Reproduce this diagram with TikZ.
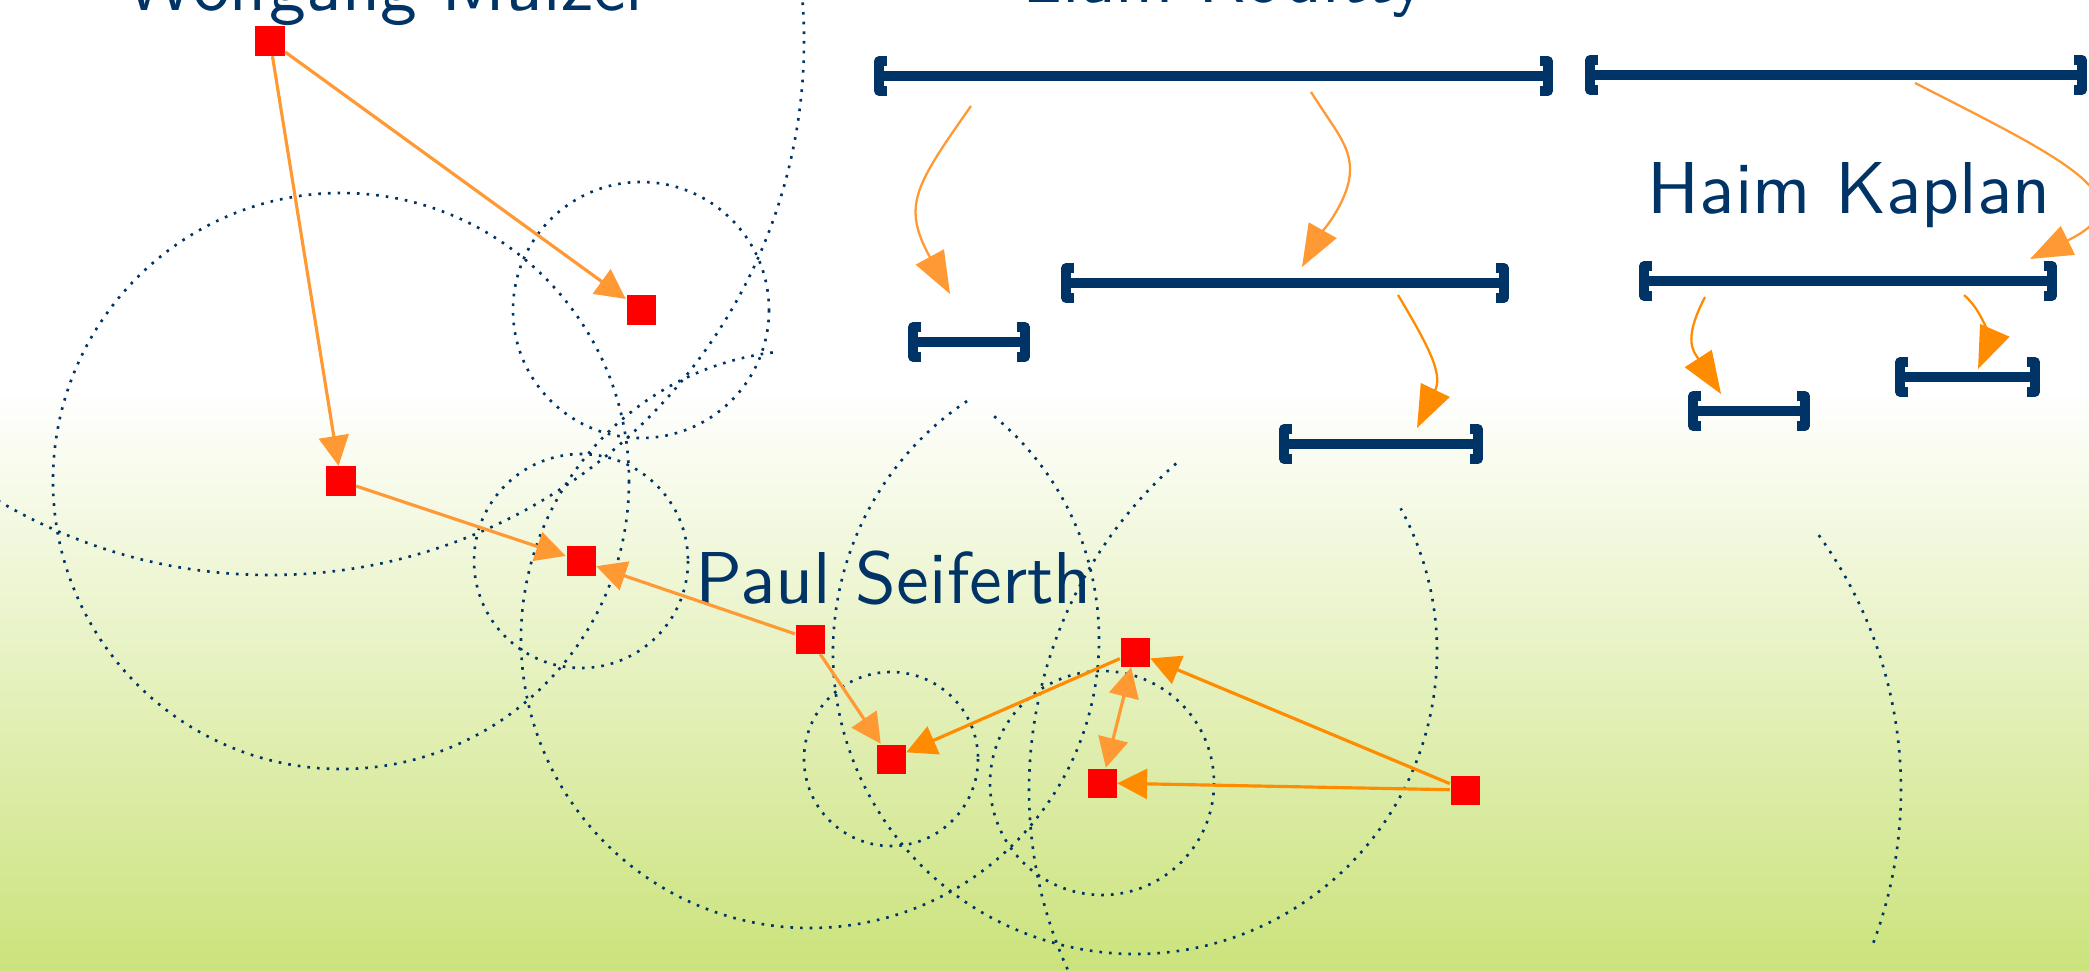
\documentclass[tikz,border=0pt]{standalone}
\usetikzlibrary{arrows.meta}
\definecolor{fublue}{HTML}{003366}
\definecolor{stred}{HTML}{FF0000}
\definecolor{orlight}{HTML}{FF9933}
\definecolor{ordark}{HTML}{FF8C00}
\definecolor{bggreen}{HTML}{CBE37C}
\begin{document}
\begin{tikzpicture}[
	x=0.01cm, y=-0.01cm,
	station/.style={fill=stred, minimum size=0.29cm, inner sep=0pt},
	disk/.style={draw=fublue, line width=0.75pt, dotted},
	ival/.style={draw=fublue, line width=2.7pt, line join=round},
	reach/.style={line width=0.9pt, -{Triangle[length=8.5pt,width=8.5pt]}},
	hop/.style={line width=0.65pt, -{Triangle[length=12pt,width=9pt]}},
	person/.style={text=fublue, font=\sffamily, inner sep=0pt, anchor=base west}
	]
	\useasboundingbox (0,0) rectangle (2089,970);
	\clip (0,0) rectangle (2089,970);
	\fill[white] (0,0) rectangle (2089,390);
	\shade[top color=white, bottom color=bggreen] (0,390) rectangle (2089,970);

	\node[person] (mulzer) at (125,11) {\scalebox{2.09}{Wolfgang Mulzer}};
	\node[person] (roditty) at (1022,3) {\scalebox{2.09}{Liam Roditty}};
	\node[person] (kaplan) at (1647,213) {\scalebox{2.09}{Haim Kaplan}};
	\node[person] (seiferth) at (695,603) {\scalebox{2.09}{Paul Seiferth}};

	\coordinate (pA) at (270,41);
	\coordinate (pB) at (641,310);
	\coordinate (pC) at (341,481);
	\coordinate (pD) at (581,561);
	\coordinate (pE) at (810,639);
	\coordinate (pF) at (891,759);
	\coordinate (pG) at (1135,652);
	\coordinate (pH) at (1102,783);
	\coordinate (pI) at (1465,790);

	\draw[disk] (pA) circle[radius=534];
	\draw[disk] (pB) circle[radius=128];
	\draw[disk] (pC) circle[radius=288];
	\draw[disk] (pD) circle[radius=107];
	\draw[disk] ([shift={(-97.4:289)}]pE) arc[start angle=-97.4, end angle=-411.6, radius=289];
	\draw[disk] (pF) circle[radius=87];
	\draw[disk] ([shift={(-123.8:302)}]pG) arc[start angle=-123.8, end angle=-388.4, radius=302];
	\draw[disk] (pH) circle[radius=112];
	\draw[disk] ([shift={(-131.5:436)}]pI) arc[start angle=-131.5, end angle=-215, radius=436];
	\draw[disk] ([shift={(20.5:436)}]pI) arc[start angle=20.5, end angle=-35.8, radius=436];

	\node[station] (sA) at (pA) {};
	\node[station] (sB) at (pB) {};
	\node[station] (sC) at (pC) {};
	\node[station] (sD) at (pD) {};
	\node[station] (sE) at (pE) {};
	\node[station] (sF) at (pF) {};
	\node[station] (sG) at (pG) {};
	\node[station] (sH) at (pH) {};
	\node[station] (sI) at (pI) {};

	\begin{scope}[reach, orlight]
		\draw (sA) -- (sB);
		\draw (sA) -- (sC);
		\draw (sC) -- (sD);
		\draw (sE) -- (sD);
		\draw (sE) -- (sF);
		\draw[{Triangle[length=8.5pt,width=8.5pt]}-{Triangle[length=8.5pt,width=8.5pt]}] (sG) -- (sH);
	\end{scope}
	\begin{scope}[reach, ordark]
		\draw (sG) -- (sF);
		\draw (sI) -- (sG);
		\draw (sI) -- (sH);
	\end{scope}

	\foreach \a/\b/\y in {874/1553/76, 1585/2087/75, 1061/1509/283, 1639/2057/281, 908/1030/342, 1688/1810/411, 1895/2040/377, 1279/1483/444}{
		\draw[ival] (\a+5,\y) -- (\b-5,\y);
		\draw[ival] (\a+13,\y-15) -- (\a+5,\y-15) -- (\a+5,\y+15) -- (\a+13,\y+15);
		\draw[ival] (\b-13,\y-15) -- (\b-5,\y-15) -- (\b-5,\y+15) -- (\b-13,\y+15);
	}

	\coordinate (h1s) at (971,106);
	\coordinate (h1t) at (950,294);
	\coordinate (h2s) at (1311,92);
	\coordinate (h2t) at (1302,267);
	\coordinate (h3s) at (1915,83);
	\coordinate (h3t) at (2030,259);
	\coordinate (h4s) at (1398,295);
	\coordinate (h4t) at (1417,428);
	\coordinate (h5s) at (1705,297);
	\coordinate (h5t) at (1721,394);
	\coordinate (h6s) at (1964,295);
	\coordinate (h6t) at (1978,369);

	\begin{scope}[hop, orlight]
		\draw (h1s) .. controls (914,187) and (902,206) .. (h1t);
		\draw (h2s) .. controls (1335,130) and (1350,145) .. (1350,170) .. controls (1350,200) and (1320,235) .. (h2t);
		\draw (h3s) .. controls (2066,160) and (2150,200) .. (h3t);
	\end{scope}
	\begin{scope}[hop, ordark]
		\draw (h4s) .. controls (1429,347) and (1443,374) .. (h4t);
		\draw (h5s) .. controls (1682,341) and (1694,352) .. (h5t);
		\draw (h6s) .. controls (1987,315) and (1988,346) .. (h6t);
	\end{scope}
\end{tikzpicture}
\end{document}
